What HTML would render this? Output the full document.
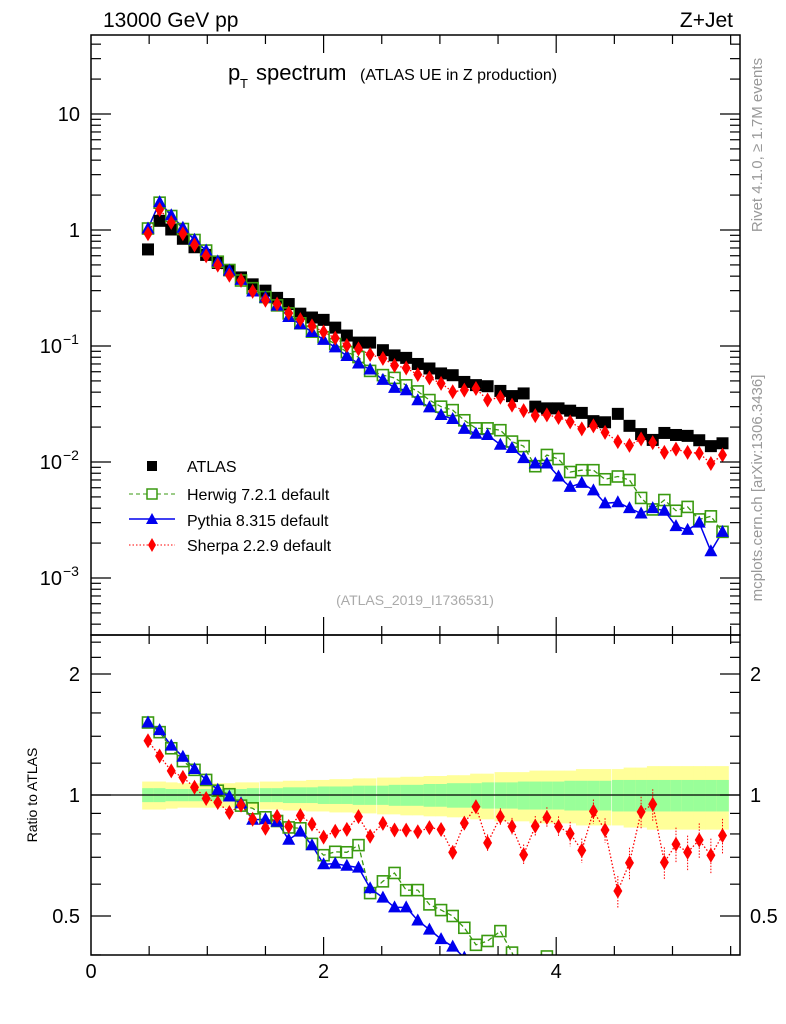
<!DOCTYPE html>
<html><head><meta charset="utf-8"><style>
html,body{margin:0;padding:0;background:#fff;width:786px;height:1024px;overflow:hidden;position:relative;}
svg{position:absolute;left:0;top:0;display:block;overflow:hidden;font-family:"Liberation Sans",sans-serif;}
script{display:none;}
</style></head><body>
<svg id="chart" width="786" height="1024" viewBox="0 0 786 1024">
<text x="103" y="27" font-size="21">13000 GeV pp</text>
<text x="733" y="27" font-size="21" text-anchor="end">Z+Jet</text>
<g>
<text x="228" y="80" font-size="22">p</text>
<text x="240" y="88" font-size="13">T</text>
<text x="256" y="80" font-size="22">spectrum</text>
<text x="360" y="80" font-size="16">(ATLAS UE in Z production)</text>
</g>
<text transform="translate(762,145) rotate(-90)" font-size="15" fill="#999" text-anchor="middle">Rivet 4.1.0, ≥ 1.7M events</text>
<text transform="translate(762,488) rotate(-90)" font-size="15" fill="#999" text-anchor="middle">mcplots.cern.ch [arXiv:1306.3436]</text>
<text x="415" y="605" font-size="14" fill="#aaa" text-anchor="middle">(ATLAS_2019_I1736531)</text>
<text transform="translate(37,795) rotate(-90)" font-size="14" text-anchor="middle">Ratio to ATLAS</text>
<g id="bands"></g>
<g id="marks"></g>
<g id="axes"></g>
<g>
<g><rect x="147" y="461" width="10" height="10" fill="#000"/><text x="187" y="472" font-size="16">ATLAS</text></g>
<g><line x1="129" y1="494" x2="175" y2="494" stroke="#3a9a10" stroke-dasharray="4,3"/><rect x="147" y="489" width="10" height="10" fill="#fff" stroke="#3a9a10" stroke-width="1.5"/><text x="187" y="500" font-size="16">Herwig 7.2.1 default</text></g>
<g><line x1="129" y1="519" x2="175" y2="519" stroke="#0000ee" stroke-width="1.5"/><polygon points="152,513 158,524 146,524" fill="#0000ee"/><text x="187" y="526" font-size="16">Pythia 8.315 default</text></g>
<g><line x1="129" y1="545" x2="175" y2="545" stroke="#f00" stroke-dasharray="1.5,2"/><polygon points="152,538 156,545 152,552 148,545" fill="#f00"/><text x="187" y="551" font-size="16">Sherpa 2.2.9 default</text></g>
</g>
</svg>
<script>
const xCenters=[0.49,0.59,0.69,0.79,0.89,0.99,1.09,1.19,1.29,1.39,1.5,1.6,1.7,1.8,1.9,2.0,2.1,2.2,2.3,2.4,2.51,2.61,2.71,2.81,2.91,3.01,3.11,3.21,3.31,3.41,3.52,3.62,3.72,3.82,3.92,4.02,4.12,4.22,4.32,4.42,4.53,4.63,4.73,4.83,4.93,5.03,5.13,5.23,5.33,5.43];
const atlas=[0.68,1.2,1.01,0.84,0.71,0.61,0.52,0.45,0.39,0.34,0.30,0.26,0.23,0.19,0.176,0.168,0.144,0.123,0.107,0.107,0.092,0.083,0.079,0.070,0.064,0.058,0.056,0.049,0.046,0.045,0.041,0.037,0.039,0.030,0.029,0.029,0.0277,0.0265,0.0225,0.022,0.026,0.0205,0.0174,0.0155,0.0178,0.0171,0.0168,0.0154,0.0137,0.0145];
const herwig=[1.03,1.72,1.32,1.02,0.82,0.665,0.533,0.452,0.367,0.315,0.264,0.224,0.191,0.157,0.133,0.119,0.104,0.0886,0.0803,0.061,0.0561,0.0531,0.0458,0.0406,0.0342,0.0300,0.028,0.0229,0.0195,0.0195,0.0188,0.0150,0.0137,0.0092,0.0115,0.0106,0.0082,0.0085,0.0085,0.0071,0.0075,0.0070,0.0049,0.0039,0.0047,0.0038,0.0041,0.0032,0.0034,0.0025];
const pythia=[1.03,1.74,1.34,1.046,0.824,0.665,0.536,0.446,0.372,0.295,0.261,0.223,0.178,0.154,0.132,0.113,0.0972,0.082,0.0706,0.0627,0.0511,0.0436,0.0415,0.0341,0.0296,0.0254,0.0235,0.0193,0.0175,0.0171,0.0141,0.0132,0.0108,0.0097,0.0097,0.0075,0.0061,0.0066,0.0057,0.0044,0.0045,0.0040,0.0036,0.0040,0.0038,0.0028,0.0026,0.0030,0.0017,0.0025];
const sherpa=[0.928,1.5,1.16,0.929,0.742,0.598,0.498,0.407,0.368,0.296,0.248,0.230,0.192,0.169,0.149,0.132,0.117,0.101,0.0945,0.0845,0.0782,0.0679,0.0646,0.0567,0.0531,0.0476,0.0403,0.0417,0.0430,0.0342,0.0362,0.0309,0.0277,0.0251,0.0255,0.0242,0.0222,0.0193,0.0205,0.0180,0.0150,0.0139,0.0158,0.0147,0.0121,0.0129,0.0121,0.0119,0.0097,0.0115];
const sherpaErr=[0.01,0.01,0.01,0.01,0.01,0.01,0.01,0.01,0.015,0.015,0.02,0.02,0.02,0.02,0.02,0.025,0.025,0.025,0.03,0.03,0.03,0.03,0.03,0.035,0.035,0.035,0.04,0.04,0.04,0.05,0.05,0.05,0.06,0.06,0.06,0.06,0.07,0.07,0.07,0.07,0.09,0.09,0.09,0.09,0.09,0.1,0.1,0.1,0.1,0.1];
const bandTot=[0.08,0.08,0.075,0.07,0.07,0.07,0.07,0.07,0.075,0.075,0.08,0.08,0.085,0.085,0.09,0.09,0.095,0.095,0.1,0.1,0.105,0.105,0.11,0.11,0.115,0.115,0.12,0.12,0.13,0.13,0.14,0.14,0.14,0.15,0.15,0.15,0.15,0.16,0.16,0.16,0.16,0.17,0.17,0.18,0.18,0.18,0.18,0.18,0.18,0.18];
const bandStat=[0.04,0.04,0.035,0.035,0.035,0.035,0.035,0.035,0.035,0.04,0.04,0.04,0.045,0.045,0.045,0.05,0.05,0.05,0.055,0.055,0.055,0.06,0.06,0.06,0.065,0.065,0.07,0.07,0.07,0.075,0.075,0.075,0.08,0.08,0.08,0.08,0.085,0.085,0.085,0.085,0.09,0.09,0.09,0.09,0.09,0.09,0.09,0.09,0.09,0.09];
const xTickLabels=["0","2","4"];
const mainTickLabels=["10","1","10","10","10"];
const ratioTickLabels=["2","1","0.5"];

const NS="http://www.w3.org/2000/svg";
const L=91,R=740,T=35,MB=635,RB=955;
function sx(v){return L+v*116.3;}
function sy(v){return 230-Math.log10(v)*116;}
function ry(v){return 795-Math.log2(v)*121;}
function mk(tag,attrs,parent){const e=document.createElementNS(NS,tag);for(const k in attrs)e.setAttribute(k,attrs[k]);parent.appendChild(e);return e;}
const bands=document.getElementById('bands'),marks=document.getElementById('marks'),axes=document.getElementById('axes');
const hw=0.05;
for(let i=0;i<xCenters.length;i++){
  const x0=sx(xCenters[i]-hw),x1=sx(xCenters[i]+hw);
  const y1=mk('rect',{x:x0,y:ry(1+bandTot[i]),width:x1-x0+0.5,height:ry(1-bandTot[i])-ry(1+bandTot[i]),fill:'#ffff99'},bands);
  
  
  const g1=mk('rect',{x:x0,y:ry(1+bandStat[i]),width:x1-x0+0.5,height:ry(1-bandStat[i])-ry(1+bandStat[i]),fill:'#99ff99'},bands);
  
  
}
const ref=mk('line',{x1:L,y1:795,x2:R,y2:795,stroke:'#000','stroke-width':1.3},bands);


const defs=mk('defs',{},marks);
const c1=mk('clipPath',{id:'cm'},defs);mk('rect',{x:L,y:T,width:R-L,height:MB-T},c1);
const c2=mk('clipPath',{id:'cr'},defs);mk('rect',{x:L,y:MB,width:R-L,height:RB-MB},c2);
const gm=mk('g',{'clip-path':'url(#cm)'},marks);
const gr=mk('g',{'clip-path':'url(#cr)'},marks);
function marker(type,x,y,g,name){
  let e;
  if(type==='atlas')e=mk('rect',{x:x-6,y:y-6,width:12,height:12,fill:'#000'},g);
  else if(type==='herwig')e=mk('rect',{x:x-5.5,y:y-5.5,width:11,height:11,fill:'none',stroke:'#3a9a10','stroke-width':1.6},g);
  else if(type==='pythia')e=mk('polygon',{points:`${x},${y-7} ${x+6.5},${y+5} ${x-6.5},${y+5}`,fill:'#0000ee'},g);
  else e=mk('polygon',{points:`${x},${y-7.5} ${x+4.5},${y} ${x},${y+7.5} ${x-4.5},${y}`,fill:'#f00'},g);
  
  
}
const styles={herwig:{c:'#3a9a10',d:'5,3',w:1.3},pythia:{c:'#0000ee',d:'',w:1.5},sherpa:{c:'#f00',d:'1.5,2',w:1.3}};
const series={herwig:herwig,pythia:pythia,sherpa:sherpa};
for(const s of ['herwig','pythia','sherpa']){
  const vals=series[s],st=styles[s];
  const pm=vals.map((v,i)=>sx(xCenters[i]).toFixed(1)+','+sy(v).toFixed(1)).join(' ');
  const pr=vals.map((v,i)=>sx(xCenters[i]).toFixed(1)+','+ry(v/atlas[i]).toFixed(1)).join(' ');
  const l1=mk('polyline',{points:pm,fill:'none',stroke:st.c,'stroke-width':st.w,'stroke-dasharray':st.d},gm);
  
  
  const l2=mk('polyline',{points:pr,fill:'none',stroke:st.c,'stroke-width':st.w,'stroke-dasharray':st.d},gr);
  
  
  if(s==='sherpa'){
    vals.forEach((v,i)=>{const x=sx(xCenters[i]);const r=v/atlas[i];
      const e=mk('line',{x1:x,x2:x,y1:ry(r*(1+sherpaErr[i])),y2:ry(r*(1-sherpaErr[i])),stroke:'#f00','stroke-dasharray':'1.5,1.5'},gr);
      
      });
  }
}
atlas.forEach((v,i)=>marker('atlas',sx(xCenters[i]),sy(v),gm,'atlas-point'));
for(const s of ['herwig','pythia','sherpa']){
  series[s].forEach((v,i)=>{marker(s,sx(xCenters[i]),sy(v),gm,s+'-point');marker(s,sx(xCenters[i]),ry(v/atlas[i]),gr,s+'-ratio-point');});
}
const f1=mk('rect',{x:L,y:T,width:R-L,height:MB-T,fill:'none',stroke:'#000','stroke-width':1.5},axes);


const f2=mk('rect',{x:L,y:MB,width:R-L,height:RB-MB,fill:'none',stroke:'#000','stroke-width':1.5},axes);


function tick(x1,y1,x2,y2,name){const t=mk('line',{x1,y1,x2,y2,stroke:'#000','stroke-width':1.2},axes);}
for(let k=1;k<=12;k++){const v=k*0.5,x=sx(v);if(x>=R)break;const major=(k%4===0);const len=major?18:9;
  tick(x,T,x,T+len,'x-tick');tick(x,MB,x,MB-len,'x-tick');tick(x,MB,x,MB+len,'x-tick');tick(x,RB,x,RB-len,'x-tick');}
xTickLabels.forEach((lab,i)=>{const t=mk('text',{x:sx(i*2),y:978,'font-size':20,'text-anchor':'middle'},axes);t.textContent=lab;
  
  });
for(let e=-4;e<=1;e++){for(let m=1;m<=9;m++){const v=m*Math.pow(10,e);const y=sy(v);if(y<T||y>MB)continue;const len=m===1?20:10;
  tick(L,y,L+len,y,'y-tick');tick(R,y,R-len,y,'y-tick');}}
const mainExp=[1,0,-1,-2,-3];
mainTickLabels.forEach((lab,i)=>{const e=mainExp[i];const y=sy(Math.pow(10,e))+7;
  const t=mk('text',{x:e<0?62:80,y:y,'font-size':20,'text-anchor':'end'},axes);t.textContent=lab;
  
  
  if(e<0){const s=mk('text',{x:63,y:y-9,'font-size':14},axes);s.textContent='−'+(-e);
    
    }});
const rv=[0.4,0.5,0.6,0.7,0.8,0.9,1,1.2,1.4,1.6,1.8,2,2.2,2.4];
rv.forEach(v=>{const y=ry(v);if(y<MB||y>RB)return;const major=(v===0.5||v===1||v===2);const len=major?20:10;
  tick(L,y,L+len,y,'ratio-y-tick');tick(R,y,R-len,y,'ratio-y-tick');});
const ratioVals=[2,1,0.5];
ratioTickLabels.forEach((lab,i)=>{const y=ry(ratioVals[i])+7;
  const a=mk('text',{x:80,y:y,'font-size':20,'text-anchor':'end'},axes);a.textContent=lab;
  
  
  const b=mk('text',{x:750,y:y,'font-size':20},axes);b.textContent=lab;
  
  });
</script>
</body></html>
